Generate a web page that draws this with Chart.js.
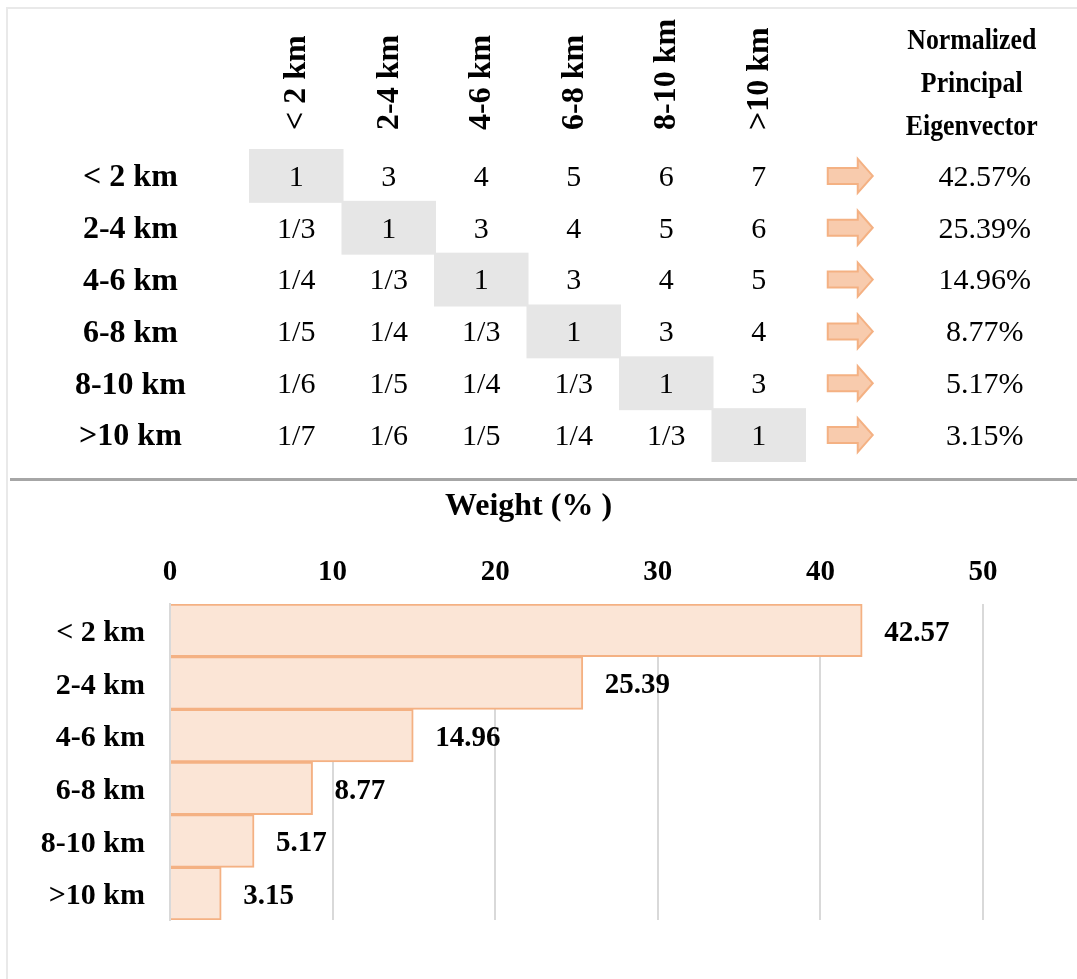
<!DOCTYPE html>
<html>
<head>
<meta charset="utf-8">
<script src="https://cdn.jsdelivr.net/npm/chart.js@4.4.1/dist/chart.umd.min.js"></script>
<style>
  body { margin: 0; background: #fff; width: 1077px; height: 979px; position: relative; overflow: hidden; }
  #frame { position: absolute; left: 6px; top: 7px; width: 1100px; height: 1000px; border-left: 2px solid #e9e9e9; border-top: 2px solid #e9e9e9; }
  #divider { position: absolute; left: 10px; top: 478px; width: 1067px; height: 3px; background: #a6a6a6; }
  #matrixChart { position: absolute; left: 0; top: 0; }
  #weightChart { position: absolute; left: 0; top: 480px; }
</style>
</head>
<body>
<div id="frame"></div>
<div id="divider"></div>
<canvas id="matrixChart" width="1077" height="479"></canvas>
<canvas id="weightChart" width="1077" height="499"></canvas>
<script>
// distance classes (rows and columns of the pairwise matrix, bars of the chart)
const classes = ['< 2 km', '2-4 km', '4-6 km', '6-8 km', '8-10 km', '>10 km'];

// pairwise comparison matrix, row by row
const rowLt2 = ['1', '3', '4', '5', '6', '7'];
const row2to4 = ['1/3', '1', '3', '4', '5', '6'];
const row4to6 = ['1/4', '1/3', '1', '3', '4', '5'];
const row6to8 = ['1/5', '1/4', '1/3', '1', '3', '4'];
const row8to10 = ['1/6', '1/5', '1/4', '1/3', '1', '3'];
const rowGt10 = ['1/7', '1/6', '1/5', '1/4', '1/3', '1'];
const comparison = [rowLt2, row2to4, row4to6, row6to8, row8to10, rowGt10];

// normalized principal eigenvector (weights, %)
const eigenvector = [42.57, 25.39, 14.96, 8.77, 5.17, 3.15];

const eigenHeader = ['Normalized', 'Principal', 'Eigenvector'];
const weightTitle = 'Weight (% )';
const weightTicks = [0, 10, 20, 30, 40, 50];

const serif = "'Liberation Serif', 'Times New Roman', serif";

// one point per matrix cell
const cellPoints = [];
classes.forEach((rowName, i) => {
  classes.forEach((colName, j) => {
    cellPoints.push({ x: colName, y: rowName, v: comparison[i][j] });
  });
});

const matrixCells = {
  id: 'matrixCells',
  beforeDatasetsDraw(chart) {
    const { ctx, scales: { x, y } } = chart;
    const w = x.getPixelForValue(1) - x.getPixelForValue(0);
    const h = y.getPixelForValue(1) - y.getPixelForValue(0);
    ctx.save();
    ctx.fillStyle = '#e6e6e6';
    classes.forEach((c, i) => {
      ctx.fillRect(x.getPixelForValue(i) - w / 2 - 1, y.getPixelForValue(i) - h / 2 - 1, w + 2, h + 2);
    });
    ctx.restore();
  },
  afterDatasetsDraw(chart) {
    const { ctx, scales: { x, y } } = chart;
    const meta = chart.getDatasetMeta(0);
    ctx.save();
    ctx.fillStyle = '#000';
    ctx.textAlign = 'center';
    ctx.textBaseline = 'middle';
    ctx.font = '30px ' + serif;
    meta.data.forEach((pt, k) => {
      ctx.fillText(cellPoints[k].v, pt.x, pt.y + 2);
    });

    const lastX = x.getPixelForValue(classes.length - 1);
    const arrowX = lastX + 91;
    const pctX = lastX + 226;

    // eigenvector column header (narrow bold type, as in the source)
    ctx.font = 'bold 30px ' + serif;
    eigenHeader.forEach((line, i) => {
      ctx.save();
      ctx.translate(pctX - 13, 41 + i * 43);
      ctx.scale(0.86, 1);
      ctx.fillText(line, 0, 0);
      ctx.restore();
    });

    ctx.font = '30px ' + serif;
    eigenvector.forEach((val, i) => {
      const cy = y.getPixelForValue(i);
      ctx.beginPath();
      ctx.moveTo(arrowX - 22, cy - 8);
      ctx.lineTo(arrowX + 8, cy - 8);
      ctx.lineTo(arrowX + 8, cy - 17);
      ctx.lineTo(arrowX + 23, cy);
      ctx.lineTo(arrowX + 8, cy + 17);
      ctx.lineTo(arrowX + 8, cy + 8);
      ctx.lineTo(arrowX - 22, cy + 8);
      ctx.closePath();
      ctx.fillStyle = '#F8CBAD';
      ctx.fill();
      ctx.strokeStyle = '#F4B183';
      ctx.lineWidth = 2;
      ctx.stroke();
      ctx.fillStyle = '#000';
      ctx.fillText(val.toFixed(2) + '%', pctX, cy + 2);
    });
    ctx.restore();
  }
};

new Chart(document.getElementById('matrixChart'), {
  type: 'scatter',
  data: { datasets: [{ data: cellPoints, pointRadius: 0, pointHoverRadius: 0 }] },
  options: {
    responsive: false,
    animation: false,
    events: [],
    layout: { padding: { left: 0, right: 272, top: 0, bottom: 18 } },
    plugins: { legend: { display: false }, tooltip: { enabled: false } },
    scales: {
      x: {
        type: 'category', labels: classes, position: 'top', offset: true,
        grid: { display: false, drawTicks: false }, border: { display: false },
        ticks: { autoSkip: false, minRotation: 90, maxRotation: 90, padding: 20, labelOffset: 39, color: '#000',
                 font: { family: serif, size: 32, weight: 'bold' } },
        afterFit: s => { s.height = 150; s.paddingLeft = 0; s.paddingRight = 0; }
      },
      y: {
        type: 'category', labels: classes, offset: true,
        grid: { display: false, drawTicks: false }, border: { display: false },
        ticks: { autoSkip: false, crossAlign: 'center', padding: 64, labelOffset: 2, color: '#000',
                 font: { family: serif, size: 32, weight: 'bold' } },
        // label padding must not eat into the rows
        afterFit: s => { s.width = 250; s.paddingTop = 0; s.paddingBottom = 0; }
      }
    }
  },
  plugins: [matrixCells]
});

const valueLabels = {
  id: 'valueLabels',
  afterDatasetsDraw(chart) {
    const { ctx, scales: { x } } = chart;
    const meta = chart.getDatasetMeta(0);
    ctx.save();
    ctx.fillStyle = '#000';
    ctx.textAlign = 'left';
    ctx.textBaseline = 'middle';
    ctx.font = 'bold 29px ' + serif;
    meta.data.forEach((bar, i) => {
      ctx.fillText(eigenvector[i].toFixed(2), bar.x + 22, bar.y + 3);
    });
    // axis title above the tick labels
    ctx.textAlign = 'center';
    ctx.font = 'bold 32px ' + serif;
    ctx.fillText(weightTitle, (x.left + x.right) / 2 - 48, 27);
    ctx.restore();
  }
};

new Chart(document.getElementById('weightChart'), {
  type: 'bar',
  data: {
    labels: classes,
    datasets: [{
      data: eigenvector,
      backgroundColor: '#FBE5D6',
      borderColor: '#F4B183',
      borderWidth: 2,
      barPercentage: 1,
      categoryPercentage: 1
    }]
  },
  options: {
    indexAxis: 'y',
    responsive: false,
    animation: false,
    events: [],
    layout: { padding: { left: 0, right: 94, top: 0, bottom: 59 } },
    plugins: { legend: { display: false }, tooltip: { enabled: false } },
    scales: {
      x: {
        position: 'top', min: weightTicks[0], max: weightTicks[weightTicks.length - 1],
        afterBuildTicks: s => { s.ticks = weightTicks.map(v => ({ value: v })); },
        grid: { color: '#d9d9d9', lineWidth: 2, drawTicks: false },
        border: { display: false },
        ticks: { padding: 14, color: '#000', font: { family: serif, size: 29, weight: 'bold' } },
        afterFit: s => { s.height = 124; }
      },
      y: {
        grid: { display: false, drawTicks: false },
        border: { color: '#d9d9d9', width: 2 },
        ticks: { padding: 25, labelOffset: 3, color: '#000', font: { family: serif, size: 30, weight: 'bold' } },
        afterFit: s => { s.width = 170; }
      }
    }
  },
  plugins: [valueLabels]
});
</script>
</body>
</html>
